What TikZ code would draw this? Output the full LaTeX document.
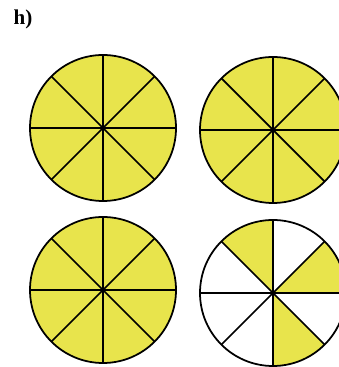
\documentclass[tikz,border=0pt]{standalone}
\usepackage{fontspec}
\setmainfont{Liberation Serif}
\definecolor{pieyellow}{RGB}{232,228,76}
\tikzset{
  pieline/.style={line width=1.5pt, black},
  piefill/.style={fill=pieyellow},
}

\begin{document}
\begin{tikzpicture}[x=0.03cm,y=0.03cm]
			\useasboundingbox (0,0) rectangle (339,367);
			\clip (0,0) rectangle (339,367);
			% 标号
			\node[font=\fontsize{18}{20}\selectfont\bfseries] (lbl) at (23,348) {h)};
			% 圆心
			\coordinate (ca) at (103,239);
			\coordinate (cb) at (273,237);
			\coordinate (cc) at (103,77);
			\coordinate (cd) at (273,74);
			% 全部涂色的三个圆
			\foreach \c in {ca,cb,cc} \fill[piefill] (\c) circle (73);
			% 第四个圆：涂三份
			\fill[white] (cd) circle (73);
			\foreach \a in {0,90,270}
				\fill[piefill] (cd) -- ++(\a:73) arc (\a:\a+45:73) -- cycle;
			% 分割线
			\foreach \c in {ca,cb,cc,cd} {
				\draw[pieline] (\c) circle (73);
				\foreach \a in {0,45,...,315} \draw[pieline] (\c) -- ++(\a:73);
				\fill (\c) circle (2.2);
			}
		\end{tikzpicture}
\end{document}
